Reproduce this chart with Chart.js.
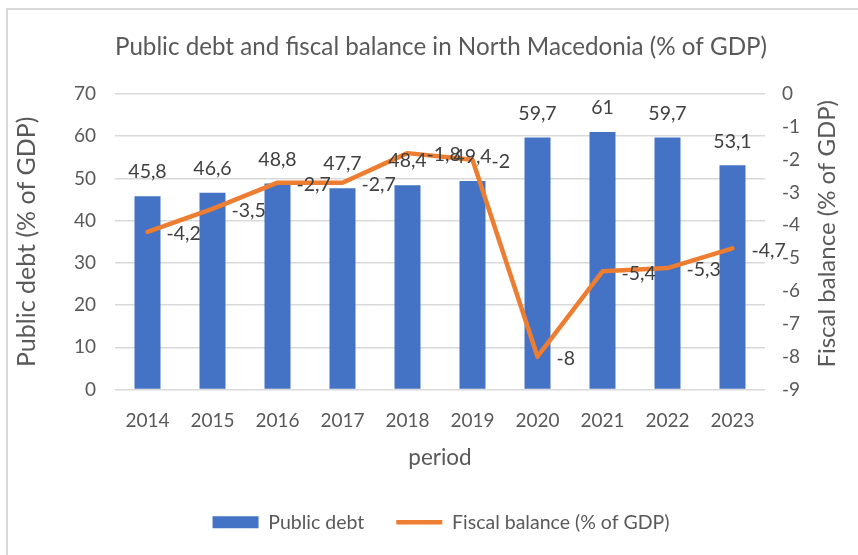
<!DOCTYPE html>
<html><head><meta charset="utf-8">
<script src="https://cdn.jsdelivr.net/npm/chart.js@4.4.0/dist/chart.umd.min.js"></script>
<style>
html,body{margin:0;padding:0;background:#fff;}
#wrap{position:relative;width:858px;height:555px;overflow:hidden;}
#frame{position:absolute;left:6px;top:8px;width:900px;height:600px;border-left:2px solid #d9d9d9;border-top:2px solid #d9d9d9;}
canvas{position:absolute;left:0;top:0;}
</style></head><body>
<div id="wrap"><div id="frame"></div><canvas id="c" width="858" height="555"></canvas></div>
<script>
const categories = ['2014','2015','2016','2017','2018','2019','2020','2021','2022','2023'];
const publicDebt = [45.8, 46.6, 48.8, 47.7, 48.4, 49.4, 59.7, 61, 59.7, 53.1];
const fiscalBalance = [-4.2, -3.5, -2.7, -2.7, -1.8, -2, -8, -5.4, -5.3, -4.7];
const debtAxis = {min: 0, max: 70, step: 10};
const balanceAxis = {min: -9, max: 0, step: 1};

const FONT = 'Lato, "Liberation Sans", sans-serif';
const TXT = '#595959';
const LBL = '#404040';
const fmt = v => String(v).replace('.', ',');

Chart.defaults.font.family = FONT;
Chart.defaults.color = TXT;

const labelPlugin = {
  id: 'valueLabels',
  afterDatasetsDraw(chart) {
    const ctx = chart.ctx;
    ctx.save();
    ctx.font = '19.5px ' + FONT;
    ctx.fillStyle = LBL;
    ctx.textBaseline = 'middle';
    const bm = chart.getDatasetMeta(0);
    ctx.textAlign = 'center';
    bm.data.forEach((el, i) => ctx.fillText(fmt(publicDebt[i]), el.x, el.y - 24));
    const lm = chart.getDatasetMeta(1);
    ctx.textAlign = 'left';
    lm.data.forEach((el, i) => ctx.fillText(fmt(fiscalBalance[i]), el.x + 19, el.y + 2));
    ctx.font = '24px ' + FONT;
    ctx.fillStyle = TXT;
    ctx.textAlign = 'center';
    ctx.translate(827, (chart.chartArea.top + chart.chartArea.bottom) / 2 - 8);
    ctx.rotate(-Math.PI / 2);
    ctx.fillText('Fiscal balance (% of GDP)', 0, 0);
    ctx.restore();
  }
};

new Chart(document.getElementById('c'), {
  data: {
    labels: categories,
    datasets: [
      {type: 'bar', label: 'Public debt', data: publicDebt, yAxisID: 'y',
       backgroundColor: '#4472C4', barPercentage: 0.4, categoryPercentage: 1,
       pointStyle: 'rect', order: 2},
      {type: 'line', label: 'Fiscal balance (% of GDP)', data: fiscalBalance, yAxisID: 'y1',
       borderColor: '#ED7D31', backgroundColor: '#ED7D31', borderWidth: 4.5,
       pointRadius: 0, tension: 0, borderJoinStyle: 'round', borderCapStyle: 'round',
       pointStyle: 'line', order: 1}
    ]
  },
  options: {
    responsive: false,
    animation: false,
    events: [],
    layout: {padding: {left: 24, right: 0, top: 0, bottom: 13}},
    plugins: {
      tooltip: {enabled: false},
      title: {display: true, text: 'Public debt and fiscal balance in North Macedonia (% of GDP)',
        color: TXT, font: {size: 24.2, weight: 'normal'}, padding: {top: 32.5, bottom: 32.5}},
      legend: {position: 'bottom',
        labels: {usePointStyle: true, pointStyleWidth: 46, boxHeight: 12, padding: 32,
          color: TXT, font: {size: 19.5},
          sort: (a, b) => a.datasetIndex - b.datasetIndex}}
    },
    scales: {
      x: {
        grid: {display: false, drawTicks: false},
        border: {display: false},
        ticks: {padding: 20, font: {size: 19}, color: TXT},
        title: {display: true, text: 'period', color: TXT, font: {size: 22.5}, padding: {top: 0, bottom: 9}},
        afterFit(s) { s.height = 91; }
      },
      y: {
        position: 'left', min: debtAxis.min, max: debtAxis.max,
        grid: {color: '#d9d9d9', lineWidth: 1.5, drawTicks: false},
        border: {display: false},
        ticks: {stepSize: debtAxis.step, padding: 19, font: {size: 19}, color: TXT},
        title: {display: true, text: 'Public debt (% of GDP)', color: TXT, font: {size: 25}, padding: {top: -12, bottom: 0}},
        afterFit(s) { s.width = 91; }
      },
      y1: {
        position: 'right', min: balanceAxis.min, max: balanceAxis.max,
        grid: {display: false, drawTicks: false},
        border: {display: false},
        ticks: {stepSize: balanceAxis.step, padding: 17, font: {size: 19}, color: TXT},
        afterFit(s) { s.width = 93; }
      }
    }
  },
  plugins: [labelPlugin]
});
</script>
</body></html>
